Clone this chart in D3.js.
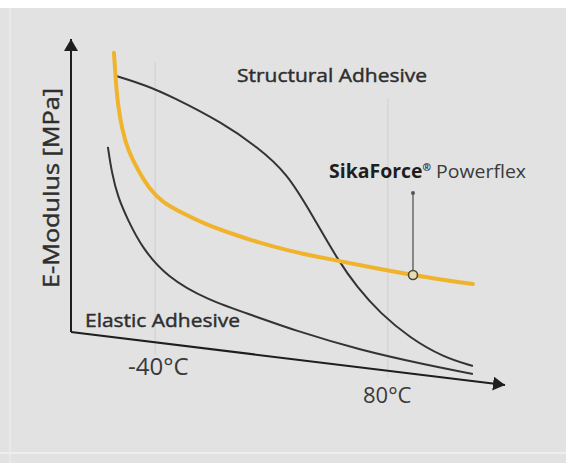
<!DOCTYPE html>
<html>
<head>
<meta charset="utf-8">
<script src="https://cdn.jsdelivr.net/npm/d3@7"></script>
<style>
  html, body { margin: 0; padding: 0; background: #fff; }
  svg { display: block; font-family: "Open Sans", sans-serif; }
</style>
</head>
<body>
<div id="canvas"><svg width="566" height="463"></svg></div>
<script>
// abstract chart units (0..100 on both axes)
const powerflex = [
  [9.9, 96.0], [10.3, 88.2], [10.8, 80.9], [11.8, 73.7], [13.1, 67.9], [15.4, 62.1],
  [18.2, 56.4], [21.0, 52.9], [25.6, 49.7], [30.9, 46.5], [37.8, 43.4], [42.9, 41.3],
  [50.5, 38.7], [55.8, 37.3], [62.0, 35.8], [71.2, 33.5], [78.8, 31.8], [85.0, 30.5],
  [92.6, 29.2]
];
const structural = [
  [10.4, 89.3], [17.1, 86.7], [23.5, 83.2], [35.0, 75.7], [42.9, 68.8], [49.8, 61.3],
  [55.8, 48.6], [61.5, 36.1], [65.9, 28.3], [71.2, 20.8], [78.1, 13.6], [85.7, 8.1],
  [92.6, 5.5]
];
const elastic = [
  [8.5, 68.8], [9.4, 61.3], [10.8, 54.3], [13.1, 47.7], [16.4, 39.6], [22.1, 31.2],
  [31.3, 24.6], [42.9, 19.7], [51.2, 15.9], [66.6, 10.1], [82.0, 5.8], [92.6, 3.2]
];
// temperature marks on the x axis
const tempTicks = [
  { label: "-40°C", x: 19.4 },
  { label: "80°C", x: 73.0 }
];
const calloutPoint = [78.8, 31.8];

const svg = d3.select("#canvas").select("svg");
const x = d3.scaleLinear().domain([0, 100]).range([71, 505]);
const y = d3.scaleLinear().domain([0, 100]).range([385, 39]);

// backdrop
svg.append("rect").attr("x", 0).attr("y", 8).attr("width", 566).attr("height", 455).attr("fill", "#e2e2e2");
svg.append("line").attr("x1", 10).attr("x2", 10).attr("y1", 8).attr("y2", 463).attr("stroke", "#e9e9e9").attr("stroke-width", 2);
svg.append("line").attr("x1", 0).attr("x2", 566).attr("y1", 453).attr("y2", 453).attr("stroke", "#eeeeee").attr("stroke-width", 2);

const defs = svg.append("defs");
defs.append("marker")
  .attr("id", "arrow")
  .attr("viewBox", "0 0 12 14")
  .attr("refX", 12).attr("refY", 7)
  .attr("markerWidth", 12).attr("markerHeight", 14)
  .attr("markerUnits", "userSpaceOnUse")
  .attr("orient", "auto")
  .append("path")
  .attr("d", "M0,0 L12,7 L0,14 Z")
  .attr("fill", "#1e1e1e");

// faint temperature gridlines
const gridSpan = [[93.4, 8.7], [82.9, 2.0]];
svg.append("g").selectAll("line")
  .data(tempTicks)
  .join("line")
  .attr("x1", d => x(d.x)).attr("x2", d => x(d.x))
  .attr("y1", (d, i) => y(gridSpan[i][0])).attr("y2", (d, i) => y(gridSpan[i][1]))
  .attr("stroke", "#d3d3d3").attr("stroke-width", 1.2);

// axes
const origin = [0, 15.3];
svg.append("path")
  .attr("d", d3.line()([[x(origin[0]), y(origin[1])], [x(0), y(100)]]))
  .attr("stroke", "#1e1e1e").attr("stroke-width", 2).attr("fill", "none")
  .attr("marker-end", "url(#arrow)");
svg.append("path")
  .attr("d", d3.line()([[x(origin[0]), y(origin[1])], [x(100), y(0)]]))
  .attr("stroke", "#1e1e1e").attr("stroke-width", 2).attr("fill", "none")
  .attr("marker-end", "url(#arrow)");

const line = d3.line()
  .x(d => x(d[0]))
  .y(d => y(d[1]))
  .curve(d3.curveBasis);

svg.append("path").datum(elastic).attr("d", line)
  .attr("fill", "none").attr("stroke", "#333").attr("stroke-width", 2);
svg.append("path").datum(structural).attr("d", line)
  .attr("fill", "none").attr("stroke", "#333").attr("stroke-width", 2);
svg.append("path").datum(powerflex).attr("d", line)
  .attr("fill", "none").attr("stroke", "#f0b32c").attr("stroke-width", 4)
  .attr("stroke-linecap", "round");

// callout
svg.append("line")
  .attr("x1", x(calloutPoint[0])).attr("x2", x(calloutPoint[0]))
  .attr("y1", y(55.5)).attr("y2", y(calloutPoint[1]) - 4)
  .attr("stroke", "#555").attr("stroke-width", 1.3);
svg.append("circle")
  .attr("cx", x(calloutPoint[0])).attr("cy", y(55.5)).attr("r", 2)
  .attr("fill", "#555");
svg.append("circle")
  .attr("cx", x(calloutPoint[0])).attr("cy", y(calloutPoint[1])).attr("r", 4.5)
  .attr("fill", "#e6dcb4").attr("stroke", "#4a4a3a").attr("stroke-width", 1.6);

// labels (regular weight, thickened a touch with a thin stroke)
const txt = "#2e2e2e";
const label = (sel) => sel.attr("fill", txt).attr("stroke", txt).attr("stroke-width", 0.45);

svg.append("text")
  .attr("transform", "translate(59,188) rotate(-90)")
  .attr("text-anchor", "middle")
  .attr("font-size", 22)
  .attr("textLength", 200).attr("lengthAdjust", "spacingAndGlyphs")
  .call(label)
  .text("E-Modulus [MPa]");

svg.append("text")
  .attr("x", 237).attr("y", 82)
  .attr("font-size", 19)
  .attr("textLength", 190).attr("lengthAdjust", "spacingAndGlyphs")
  .call(label)
  .text("Structural Adhesive");

svg.append("text")
  .attr("x", 85).attr("y", 327)
  .attr("font-size", 19)
  .attr("textLength", 155).attr("lengthAdjust", "spacingAndGlyphs")
  .call(label)
  .text("Elastic Adhesive");

const sika = svg.append("text")
  .attr("x", 329).attr("y", 178)
  .attr("font-size", 19).attr("fill", txt)
  .attr("textLength", 197).attr("lengthAdjust", "spacingAndGlyphs");
sika.append("tspan").attr("font-weight", 700).attr("fill", "#1e1e1e").text("SikaForce");
sika.append("tspan").attr("font-weight", 700).attr("font-size", 10).attr("dy", -7).attr("fill", "#1e1e1e").text("®");
sika.append("tspan").attr("dy", 7).attr("fill", "#3a3a3a").text(" Powerflex");

svg.append("g").selectAll("text")
  .data(tempTicks)
  .join("text")
  .attr("x", (d, i) => i === 0 ? 128 : 363)
  .attr("y", (d, i) => i === 0 ? 375 : 403)
  .attr("font-size", (d, i) => i === 0 ? 24 : 22)
  .attr("fill", "#3a3a3a")
  .text(d => d.label);
</script>
</body>
</html>
